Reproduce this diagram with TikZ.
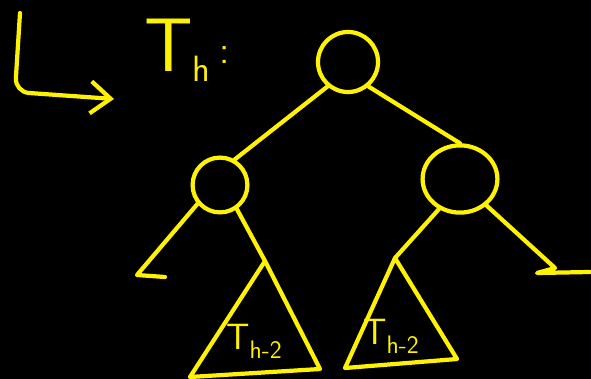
\documentclass[tikz,border=0pt]{standalone}
\usepackage{amsmath}
\usetikzlibrary{arrows.meta,shapes.geometric}

\begin{document}
\begin{tikzpicture}[
  x=0.025cm, y=-0.025cm,
  chalk/.style={draw=yellow,line width=3pt,line cap=round,line join=round},
  vtx/.style={chalk,ellipse,inner sep=0pt},
  lbl/.style={text=yellow,inner sep=0pt,anchor=base west,font=\sffamily}
]
  \fill[black] (0,0) rectangle (591,379);
  \useasboundingbox (0,0) rectangle (591,379);

  % bracket arrow and title
  \coordinate (brk0) at (20,13);
  \coordinate (brk1) at (15,92);
  \coordinate (brk2) at (114,99);
  \draw[chalk,rounded corners=0.35cm,-{Straight Barb[length=5mm,width=8mm]}] (brk0)--(brk1)--(brk2);
  \node[lbl] (title) at (144,72) {\fontsize{54}{56}\selectfont T\raisebox{-7pt}{\fontsize{26}{28}\selectfont h}\hspace{6pt}\raisebox{6pt}{\fontsize{28}{30}\selectfont :}};

  % vertices
  \node[vtx,minimum width=1.5cm,minimum height=1.5cm] (root) at (348,62) {};
  \node[vtx,minimum width=1.37cm,minimum height=1.37cm] (lc) at (220,185) {};
  \node[vtx,minimum width=1.87cm,minimum height=1.68cm] (rc) at (460,179) {};
  \draw[chalk] (root.-130)--(lc.60);
  \draw[chalk] (root.-50)--(rc.north);

  % left child
  \coordinate (lleaf) at (137,275);
  \coordinate (lleafE) at (165,277);
  \draw[chalk] (lc.-140)--(lleaf)--(lleafE);
  \coordinate (ltop) at (265,261);
  \coordinate (lbl1) at (190,377);
  \coordinate (lbr1) at (320,369);
  \draw[chalk] (lc.-55)--(ltop);
  \draw[chalk] (ltop)--(lbl1)--(lbr1)--cycle;
  \node[lbl] (tl) at (226,350) {\fontsize{26}{28}\selectfont T\raisebox{-6pt}{\fontsize{18}{20}\selectfont h-2}};

  % right child
  \coordinate (rtop) at (395,258);
  \coordinate (rbl) at (345,368);
  \coordinate (rbr) at (457,359);
  \draw[chalk] (rc.-125)--(rtop);
  \draw[chalk] (rtop)--(rbl)--(rbr)--cycle;
  \node[lbl] (tr) at (363,345) {\fontsize{26}{28}\selectfont T\raisebox{-6pt}{\fontsize{18}{20}\selectfont h-2}};
  \coordinate (rleaf) at (555,268);
  \coordinate (rleafS) at (537,273);
  \coordinate (rleafE) at (590,272);
  \draw[chalk] (rc.-45)--(rleaf)--(rleafS)--(rleafE);
\end{tikzpicture}
\end{document}
